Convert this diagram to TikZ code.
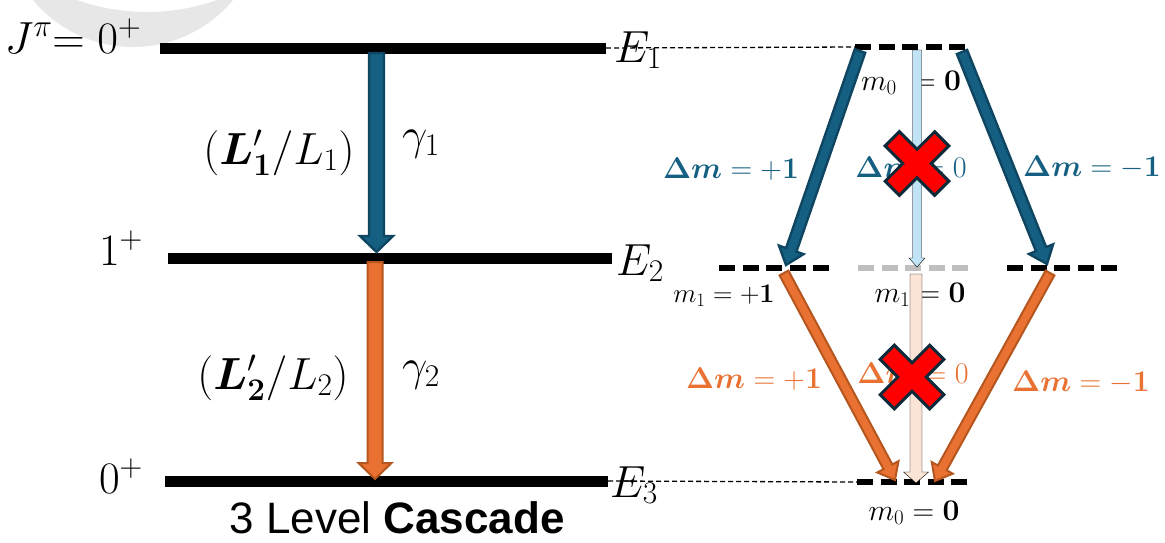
\RequirePackage{fix-cm}
\documentclass[tikz,border=0pt]{standalone}
\usepackage{amsmath,bm}
\usepackage[no-math]{fontspec}
\newfontfamily\capfont{Liberation Sans}
\usetikzlibrary{calc}
\definecolor{dblue}{HTML}{156082}
\definecolor{dblueline}{HTML}{0E4560}
\definecolor{orng}{HTML}{E97132}
\definecolor{orngline}{HTML}{B5561F}
\definecolor{lblue}{HTML}{C0E4F5}
\definecolor{lorng}{HTML}{FBE3D6}
\definecolor{xline}{HTML}{0D2A3A}
\definecolor{ringgray}{HTML}{E7E7E7}
\definecolor{midgray}{HTML}{BFBFBF}
% block arrow: style, from, to, half shaft, half head, head length
\newcommand\blockarrow[6]{%
  \coordinate (bac) at ($(#3)!#6!(#2)$);
  \draw[#1] ($(#2)!#4!90:(#3)$) -- ($(bac)!#4!-90:(#2)$) -- ($(bac)!#5!-90:(#2)$)
    -- (#3) -- ($(bac)!#5!90:(#2)$) -- ($(bac)!#4!90:(#2)$) -- ($(#2)!#4!-90:(#3)$) -- cycle;}
\newcommand\crossmark[1]{%
  \draw[xcross, shift={(#1)}, rotate=45] (-10,-35) -- (10,-35) -- (10,-10) -- (35,-10)
    -- (35,10) -- (10,10) -- (10,35) -- (-10,35) -- (-10,10) -- (-35,10)
    -- (-35,-10) -- (-10,-10) -- cycle;}
\begin{document}
\begin{tikzpicture}[x=1pt,y=-1pt,
  lvline/.style={line width=11pt},
  sublv/.style={line width=6pt, dash pattern=on 16pt off 7.5pt},
  guide/.style={line width=1.3pt, dash pattern=on 5pt off 3pt},
  barr/.style={fill=dblue, draw=dblueline, line width=2.4pt},
  oarr/.style={fill=orng, draw=orngline, line width=2pt},
  lbarr/.style={fill=lblue},
  loarr/.style={fill=lorng},
  big/.style={inner sep=0pt, font=\fontsize{45}{52}\selectfont},
  fraclab/.style={inner sep=0pt, font=\fontsize{45}{52}\selectfont},
  mlab/.style={inner sep=0pt, font=\fontsize{30}{36}\selectfont},
  dlab/.style={inner sep=0pt, font=\fontsize{30}{36}\selectfont},
  xcross/.style={fill=red, draw=xline, line width=3pt}
]
\useasboundingbox (0,0) rectangle (1165,542);
\begin{scope}
  \clip (0,0) rectangle (1165,542);
  \fill[ringgray, even odd rule] (133,-83) circle[radius=130] (147,-198) circle[radius=210];
\end{scope}

% left level scheme
\coordinate (L1a) at (160,48);   \coordinate (L1b) at (606,48);
\coordinate (L2a) at (168,258.5); \coordinate (L2b) at (612,258.5);
\coordinate (L3a) at (165,481);  \coordinate (L3b) at (608,481);
\draw[lvline] (L1a) -- (L1b);
\draw[lvline] (L2a) -- (L2b);
\draw[lvline] (L3a) -- (L3b);

% right sublevels
\coordinate (R1a) at (855,47);   \coordinate (R1b) at (966,47);
\coordinate (R2la) at (719,268); \coordinate (R2lb) at (831,268);
\coordinate (R2ma) at (858,268); \coordinate (R2mb) at (969,268);
\coordinate (R2ra) at (1007,268); \coordinate (R2rb) at (1118,268);
\coordinate (R3a) at (857,482);  \coordinate (R3b) at (968,482);
\draw[guide] (L1b) -- (R1a);
\draw[guide] (L3b) -- (R3a);
\draw[sublv] (R1a) -- (R1b);
\draw[sublv] (R2la) -- (R2lb);
\draw[sublv, midgray] (R2ma) -- (R2mb);
\draw[sublv] (R2ra) -- (R2rb);
\draw[sublv] (R3a) -- (R3b);

% labels left
\node[big, anchor=base] (jp) at (73,53) {$J^{\pi}{=}\;0^{+}$};
\node[big, anchor=base] (j1) at (121,265) {$1^{+}$};
\node[big, anchor=base] (j0) at (121,493) {$0^{+}$};
\node[big, anchor=base west] (e1) at (614,62) {$E_1$};
\node[big, anchor=base west] (e2) at (616,275) {$E_2$};
\node[big, anchor=base west] (e3) at (610,497) {$E_3$};
\node[fraclab, anchor=base] (ml1) at (279,164) {$(\boldsymbol{L}'_{\mathbf{1}}/L_1)$};
\node[fraclab, anchor=base] (ml2) at (273,389) {$(\boldsymbol{L}'_{\mathbf{2}}/L_2)$};
\node[fraclab, anchor=base] (g1) at (421,149) {$\gamma_1$};
\node[fraclab, anchor=base] (g2) at (421,380) {$\gamma_2$};
\node[inner sep=0pt, anchor=base, font=\capfont\fontsize{44}{50}\selectfont] (cap) at (397,533) {3 Level \textbf{Cascade}};

% left cascade arrows
\coordinate (b0) at (376.5,53);  \coordinate (b1) at (376.5,252);
\coordinate (o0) at (375,262);   \coordinate (o1) at (375,479);
\blockarrow{barr}{b0}{b1}{7.5pt}{16.5pt}{16pt}
\blockarrow{oarr}{o0}{o1}{7.5pt}{16.5pt}{16pt}

% right: texts
\node[mlab, anchor=base] (m0t) at (911,90) {$m_0\hspace{9pt}= \mathbf{0}$};
\node[inner sep=0pt, font=\fontsize{27}{32}\selectfont, anchor=base] (m1p) at (724,302) {$m_1 = +\mathbf{1}$};
\node[mlab, anchor=base] (m10) at (920,302) {$m_1 = \mathbf{0}$};
\node[mlab, anchor=base] (m0b) at (914,520) {$m_0 = \mathbf{0}$};

\node[dlab, dblue, anchor=base] (dbp) at (731,178) {$\boldsymbol{\Delta m} = \mathbf{+1}$};
\node[dlab, dblue, anchor=base] (db0) at (911,177) {$\boldsymbol{\Delta m} = 0$};
\node[dlab, dblue, anchor=base] (dbm) at (1092,176) {$\boldsymbol{\Delta m} = \mathbf{-1}$};
\node[dlab, orng, anchor=base] (dop) at (754,388) {$\boldsymbol{\Delta m} = \mathbf{+1}$};
\node[dlab, orng, anchor=base] (do0) at (913,383) {$\boldsymbol{\Delta m} = 0$};
\node[dlab, orng, anchor=base] (dom) at (1081,391) {$\boldsymbol{\Delta m} = \mathbf{-1}$};

% right: arrows
\coordinate (lb0) at (917,50);  \coordinate (lb1) at (917,267);
\coordinate (lo0) at (916,274); \coordinate (lo1) at (916,483);
\blockarrow{lbarr}{lb0}{lb1}{4.5pt}{8pt}{9pt}
\blockarrow{loarr}{lo0}{lo1}{6pt}{12.5pt}{11pt}
\coordinate (bl0) at (860,51);  \coordinate (bl1) at (786,265);
\coordinate (br0) at (962,52);  \coordinate (br1) at (1047,264);
\coordinate (ol0) at (784,273); \coordinate (ol1) at (895,480);
\coordinate (or0) at (1050,273); \coordinate (or1) at (935,481);
\blockarrow{barr}{bl0}{bl1}{5.5pt}{13pt}{16pt}
\blockarrow{barr}{br0}{br1}{5.5pt}{13pt}{16pt}
\blockarrow{oarr}{ol0}{ol1}{5pt}{12pt}{15pt}
\blockarrow{oarr}{or0}{or1}{5pt}{12pt}{15pt}

% forbidden transitions
\coordinate (x1) at (917,163.5);
\coordinate (x2) at (912,377);
\crossmark{x1}
\crossmark{x2}
\end{tikzpicture}
\end{document}
